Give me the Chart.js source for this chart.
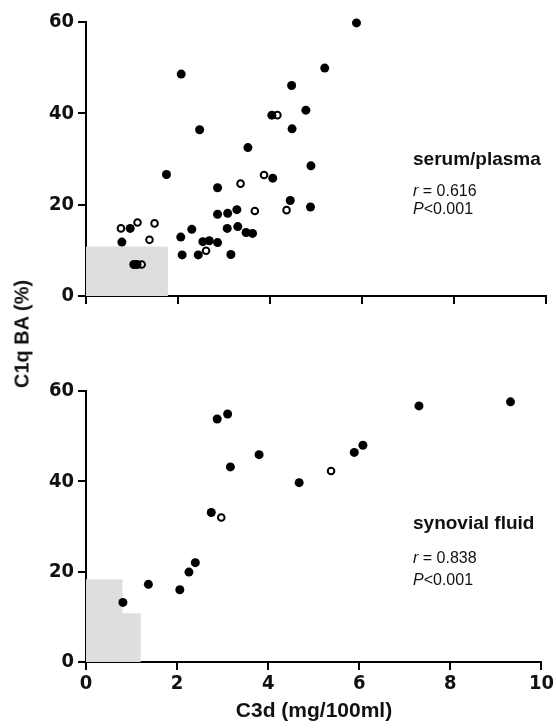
<!DOCTYPE html>
<html>
<head>
<meta charset="utf-8">
<script src="https://cdn.jsdelivr.net/npm/chart.js@4"></script>
<style>
  body { margin: 0; background: #fff; width: 556px; height: 728px; position: relative; overflow: hidden; }
  .panel { position: absolute; left: 0; }
  .txt { position: absolute; color: #111; white-space: nowrap; font-family: 'Liberation Sans', Arial, sans-serif; }
  .bold { font-weight: bold; }
</style>
</head>
<body>
<div class="panel" style="top:0"><canvas id="serum-chart" width="556" height="320"></canvas></div>
<div class="panel" style="top:360px"><canvas id="synovial-chart" width="556" height="368"></canvas></div>

<div class="txt bold" style="left:413px;top:148px;font-size:19px">serum/plasma</div>
<div class="txt" style="left:413px;top:182px;font-size:16px"><i>r</i> = 0.616</div>
<div class="txt" style="left:413px;top:200px;font-size:16px"><i>P</i>&lt;0.001</div>

<div class="txt bold" style="left:413px;top:512px;font-size:19px">synovial fluid</div>
<div class="txt" style="left:413px;top:549px;font-size:16px"><i>r</i> = 0.838</div>
<div class="txt" style="left:413px;top:571px;font-size:16px"><i>P</i>&lt;0.001</div>

<div class="txt bold" style="left:22px;top:334px;font-size:20px;transform:translate(-50%,-50%) rotate(-90deg)">C1q BA (%)</div>
<div class="txt bold" style="left:314px;top:710px;font-size:21px;transform:translate(-50%,-50%)">C3d (mg/100ml)</div>

<script>
// serum/plasma panel
var serumFilledX = [0.78, 0.96, 1.04, 1.11, 1.75, 2.07, 2.06, 2.09, 2.30, 2.44, 2.47, 2.54, 2.68, 2.86, 2.86, 2.86, 3.07, 3.08, 3.15, 3.28, 3.30, 3.52, 3.48, 3.62, 4.06, 4.04, 5.88, 5.19, 4.47, 4.78, 4.48, 4.89, 4.44, 4.88]
var serumFilledY = [11.8, 14.8, 6.9, 6.9, 26.6, 48.6, 12.9, 9.0, 14.6, 9.0, 36.4, 11.9, 12.1, 23.7, 17.9, 11.7, 14.8, 18.1, 9.1, 18.9, 15.2, 32.5, 13.9, 13.7, 25.8, 39.6, 59.8, 49.9, 46.1, 40.7, 36.6, 28.5, 20.9, 19.5]
var serumOpenX = [0.76, 1.12, 1.21, 1.38, 1.49, 2.61, 3.36, 3.67, 3.87, 4.16, 4.36]
var serumOpenY = [14.8, 16.1, 6.9, 12.3, 15.9, 9.9, 24.6, 18.6, 26.5, 39.6, 18.8]

// synovial fluid panel
var synovialFilledX = [0.81, 1.37, 2.06, 2.26, 2.40, 2.75, 2.88, 3.11, 3.17, 3.80, 4.68, 5.89, 6.08, 7.31, 9.32]
var synovialFilledY = [13.2, 17.2, 16.0, 19.9, 22.0, 33.1, 53.8, 54.9, 43.2, 45.9, 39.7, 46.4, 48.0, 56.7, 57.6]
var synovialOpenX = [2.97, 5.38]
var synovialOpenY = [32.0, 42.3]

// shaded normal ranges [xMax, yMax]
var serumShade = [[1.78, 10.8]]
var synovialShade = [[1.2, 10.8], [0.8, 18.3]]

var xTicks = [0, 2, 4, 6, 8, 10]
var yTicks = [0, 20, 40, 60]

function toPoints(xs, ys) {
  return xs.map(function (x, i) { return { x: x, y: ys[i] } })
}

var shadePlugin = {
  id: 'shade',
  beforeDatasetsDraw: function (chart, args, opts) {
    var ctx = chart.ctx
    var xs = chart.scales.x
    var ys = chart.scales.y
    ctx.save()
    ctx.fillStyle = '#dedede'
    opts.boxes.forEach(function (b) {
      var x0 = xs.getPixelForValue(0)
      var x1 = xs.getPixelForValue(b[0])
      var y0 = ys.getPixelForValue(0)
      var y1 = ys.getPixelForValue(b[1])
      ctx.fillRect(x0, y1, x1 - x0, y0 - y1)
    })
    ctx.restore()
  }
}

var tickFont = { family: "'Liberation Sans Narrow', 'DejaVu Sans Condensed', sans-serif", size: 20, weight: 'bold' }

function makeChart(id, filled, open, boxes, showXLabels, padTop, xHeight) {
  return new Chart(document.getElementById(id), {
    type: 'scatter',
    data: {
      datasets: [
        {
          data: filled,
          pointRadius: 4.5,
          pointBackgroundColor: '#000',
          pointBorderColor: '#000',
          pointBorderWidth: 0,
          clip: false
        },
        {
          data: open,
          pointRadius: 3.3,
          pointBackgroundColor: '#fff',
          pointBorderColor: '#000',
          pointBorderWidth: 2,
          clip: false
        }
      ]
    },
    options: {
      responsive: false,
      animation: false,
      layout: { padding: { top: padTop, right: 10, left: 0, bottom: 0 } },
      scales: {
        x: {
          type: 'linear',
          min: 0,
          max: 10,
          afterBuildTicks: function (scale) {
            scale.ticks = xTicks.map(function (v) { return { value: v } })
          },
          afterFit: function (scale) { scale.height = xHeight },
          grid: { drawOnChartArea: false, color: '#000', lineWidth: 2, tickLength: 8 },
          border: { color: '#000', width: 2 },
          ticks: { display: showXLabels, color: '#111', font: tickFont, padding: 2, maxRotation: 0 }
        },
        y: {
          min: 0,
          max: 60,
          afterBuildTicks: function (scale) {
            scale.ticks = yTicks.map(function (v) { return { value: v } })
          },
          afterFit: function (scale) { scale.width = 86 },
          grid: { drawOnChartArea: false, color: '#000', lineWidth: 2, tickLength: 8 },
          border: { color: '#000', width: 2 },
          ticks: { color: '#111', font: tickFont, padding: 4 }
        }
      },
      plugins: {
        legend: { display: false },
        tooltip: { enabled: false },
        shade: { boxes: boxes }
      }
    },
    plugins: [shadePlugin]
  })
}

makeChart('serum-chart', toPoints(serumFilledX, serumFilledY), toPoints(serumOpenX, serumOpenY), serumShade, false, 22, 24)
makeChart('synovial-chart', toPoints(synovialFilledX, synovialFilledY), toPoints(synovialOpenX, synovialOpenY), synovialShade, true, 31, 66)
</script>
</body>
</html>
